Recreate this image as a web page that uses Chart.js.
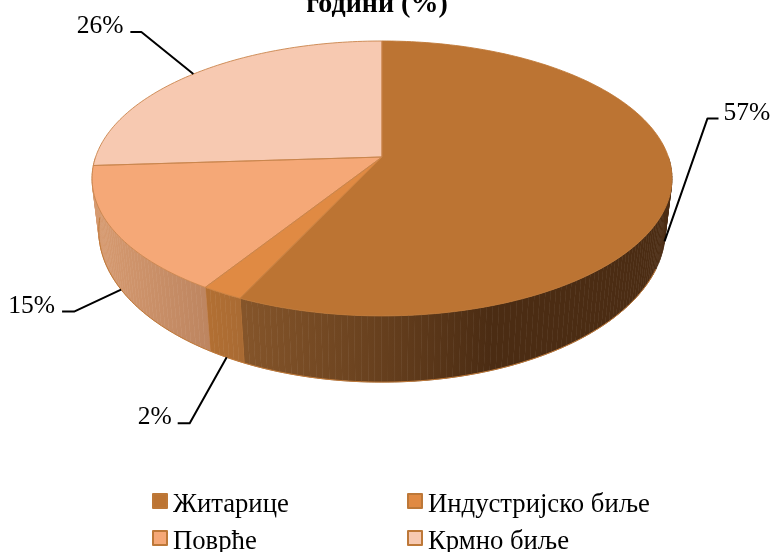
<!DOCTYPE html>
<html>
<head>
<meta charset="utf-8">
<style>html,body{margin:0;padding:0;background:#fff}canvas{display:block}</style>
<script src="https://cdn.jsdelivr.net/npm/chart.js@4"></script>
</head>
<body>
<canvas id="c" width="771" height="552"></canvas>
<script>
const titleText = 'години (%)';
const categories = ['Житарице', 'Индустријско биље', 'Поврће', 'Крмно биље'];
const shares = [57, 2, 15, 26];
const topColors = ['#BC7433', '#E08A43', '#F5A877', '#F7C9B1'];
const edgeColors = ['#BF7837', '#C9803F', '#C9854C', '#C9854C'];
const legendBorder = '#BD7838';
const serif = '"Liberation Serif", "Times New Roman", serif';

// camera: maps the unit circle of the pie onto the page, top face and bottom face
const CX = 382;
const topFace = {x: 286.4, y: 134.1, y0: 157, k: 0.156};
const botFace = {x: 280, y: 148, y0: 208, k: 0.15};
function project(face, a) {
  const w = 1 - face.k * Math.sin(a);
  return [CX + face.x * Math.cos(a) / w, face.y0 + face.y * Math.sin(a) / w];
}
// side wall shading per slice: [x0, x1, stops]
const wallShades = [
  [243, 490, ['#85552A', '#6A421F', '#4B2C13']],
  [205, 245, ['#B37033', '#A86A33']],
  [99, 209, ['#D69A70', '#BD8560']],
  [93, 99, ['#D69A70', '#D69A70']]
];
// label placement relative to the rim anchor: elbow offset, text side, rim used
const callouts = [
  {face: botFace, ex: 43, ey: -123, hx: 11, side: 1, ty: 2, gap: 5},
  {face: botFace, ex: -37, ey: 66, hx: -12, side: -1, ty: 1, gap: 6},
  {face: botFace, ex: -47, ey: 22, hx: -12, side: -1, ty: 1, gap: 7},
  {face: topFace, ex: -52, ey: -42, hx: -11, side: -1, ty: 1, gap: 7}
];

function arcPath(ctx, face, a0, a1, first) {
  const n = Math.max(2, Math.ceil(Math.abs(a1 - a0) / 0.02));
  for (let i = 0; i <= n; i++) {
    const p = project(face, a0 + (a1 - a0) * i / n);
    if (i === 0 && first) ctx.moveTo(p[0], p[1]); else ctx.lineTo(p[0], p[1]);
  }
}

const pie3d = {
  id: 'pie3d',
  beforeDatasetDraw(chart, args) {
    const ctx = chart.ctx, arcs = chart.getDatasetMeta(args.index).data;
    ctx.save();
    ctx.lineJoin = 'round';
    // walls (front half only), built of thin quads so the silhouette stays a full hull
    arcs.forEach((arc, i) => {
      const a0 = Math.max(arc.startAngle, 0), a1 = Math.min(arc.endAngle, Math.PI);
      if (a1 <= a0) return;
      const s = wallShades[i];
      const g = ctx.createLinearGradient(s[0], 0, s[1], 0);
      s[2].forEach((c, k) => g.addColorStop(k / (s[2].length - 1), c));
      ctx.fillStyle = g;
      ctx.strokeStyle = g;
      ctx.lineWidth = 0.6;
      const n = Math.ceil((a1 - a0) / 0.02);
      for (let j = 0; j < n; j++) {
        const p = a0 + (a1 - a0) * j / n, q = a0 + (a1 - a0) * (j + 1) / n;
        ctx.beginPath();
        arcPath(ctx, topFace, p, q, true);
        arcPath(ctx, botFace, q, p, false);
        ctx.closePath();
        ctx.fill();
        ctx.stroke();
      }
      ctx.beginPath();
      arcPath(ctx, botFace, Math.max(a0, 0.4), Math.min(a1, 2.9), true);
      ctx.strokeStyle = edgeColors[0];
      ctx.lineWidth = 1;
      ctx.stroke();
      if (a1 < 3) {
        const t = project(topFace, a1), b = project(botFace, a1);
        ctx.beginPath(); ctx.moveTo(t[0], t[1]); ctx.lineTo(b[0], b[1]);
        ctx.strokeStyle = edgeColors[0]; ctx.stroke();
      }
    });
    // top faces
    arcs.forEach((arc) => {
      ctx.beginPath();
      ctx.moveTo(CX, topFace.y0);
      arcPath(ctx, topFace, arc.startAngle, arc.endAngle, false);
      ctx.closePath();
      ctx.fillStyle = arc.options.backgroundColor;
      ctx.fill();
    });
    arcs.forEach((arc) => {
      ctx.beginPath();
      ctx.moveTo(CX, topFace.y0);
      arcPath(ctx, topFace, arc.startAngle, arc.endAngle, false);
      ctx.closePath();
      ctx.strokeStyle = arc.options.borderColor;
      ctx.lineWidth = 0.9;
      ctx.stroke();
    });
    // call-outs
    ctx.font = '25.5px ' + serif;
    ctx.textBaseline = 'alphabetic';
    arcs.forEach((arc, i) => {
      const c = callouts[i], mid = (arc.startAngle + arc.endAngle) / 2;
      const p = project(c.face, mid);
      const ex = p[0] + c.ex, ey = p[1] + c.ey, hx = ex + c.hx;
      ctx.beginPath();
      ctx.moveTo(p[0], p[1]); ctx.lineTo(ex, ey); ctx.lineTo(hx, ey);
      ctx.strokeStyle = '#000';
      ctx.lineWidth = 2;
      ctx.stroke();
      ctx.fillStyle = '#000';
      ctx.textAlign = c.side > 0 ? 'left' : 'right';
      ctx.fillText(shares[i] + '%', hx + c.side * c.gap, ey + c.ty);
    });
    // legend
    const cols = [153, 408], rows = [494, 531];
    ctx.font = '26.7px ' + serif;
    ctx.textAlign = 'left';
    categories.forEach((name, i) => {
      const x = cols[i % 2], y = rows[Math.floor(i / 2)];
      ctx.fillStyle = topColors[i];
      ctx.fillRect(x, y, 14, 14);
      ctx.strokeStyle = legendBorder;
      ctx.lineWidth = 2;
      ctx.strokeRect(x, y, 14, 14);
      ctx.fillStyle = '#000';
      ctx.fillText(name, x + 20, y + 17.5);
    });
    ctx.restore();
    return false;
  }
};

new Chart(document.getElementById('c'), {
  type: 'pie',
  data: {
    labels: categories,
    datasets: [{data: shares, backgroundColor: topColors, borderColor: edgeColors, borderWidth: 1}]
  },
  plugins: [pie3d],
  options: {
    responsive: false,
    animation: false,
    layout: {padding: {right: 17}},
    plugins: {
      legend: {display: false},
      tooltip: {enabled: false},
      title: {
        display: true,
        text: titleText,
        color: '#000',
        align: 'center',
        font: {family: serif, size: 28, weight: 'bold', lineHeight: 1.2},
        padding: {top: -12, bottom: 0}
      }
    }
  }
});
</script>
</body>
</html>
